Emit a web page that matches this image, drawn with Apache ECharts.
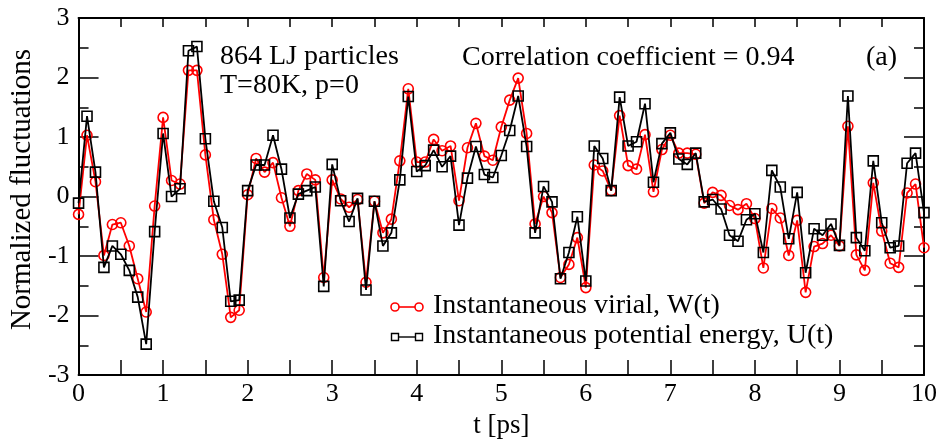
<!DOCTYPE html>
<html>
<head>
<meta charset="utf-8">
<script src="https://cdn.jsdelivr.net/npm/echarts@6/dist/echarts.min.js"></script>
<style>
  html, body { margin: 0; padding: 0; background: #fff; }
  #chart { width: 940px; height: 444px; }
</style>
</head>
<body>
<div id="chart"></div>
<script>
// Sampling times, ps
const times = [
  0.0, 0.1, 0.2, 0.3, 0.4, 0.5, 0.6, 0.7, 0.8, 0.9,
  1.0, 1.1, 1.2, 1.3, 1.4, 1.5, 1.6, 1.7, 1.8, 1.9,
  2.0, 2.1, 2.2, 2.3, 2.4, 2.5, 2.6, 2.7, 2.8, 2.9,
  3.0, 3.1, 3.2, 3.3, 3.4, 3.5, 3.6, 3.7, 3.8, 3.9,
  4.0, 4.1, 4.2, 4.3, 4.4, 4.5, 4.6, 4.7, 4.8, 4.9,
  5.0, 5.1, 5.2, 5.3, 5.4, 5.5, 5.6, 5.7, 5.8, 5.9,
  6.0, 6.1, 6.2, 6.3, 6.4, 6.5, 6.6, 6.7, 6.8, 6.9,
  7.0, 7.1, 7.2, 7.3, 7.4, 7.5, 7.6, 7.7, 7.8, 7.9,
  8.0, 8.1, 8.2, 8.3, 8.4, 8.5, 8.6, 8.7, 8.8, 8.9,
  9.0, 9.1, 9.2, 9.3, 9.4, 9.5, 9.6, 9.7, 9.8, 9.9,
  10.0
];

// Instantaneous virial W(t), normalized fluctuation
const virial = [
  -0.30, 1.03, 0.25, -0.99, -0.47, -0.44, -0.83, -1.38, -1.94, -0.16,
  1.33, 0.27, 0.21, 2.12, 2.12, 0.70, -0.39, -0.97, -2.03, -1.91,
  0.03, 0.64, 0.41, 0.57, -0.02, -0.50, 0.10, 0.38, 0.28, -1.36,
  0.28, -0.04, -0.18, -0.05, -1.44, -0.08, -0.61, -0.38, 0.60, 1.81,
  0.58, 0.58, 0.96, 0.77, 0.85, -0.07, 0.82, 1.23, 0.68, 0.61,
  1.17, 1.62, 1.99, 1.06, -0.46, 0.00, -0.27, -1.36, -1.14, -0.69,
  -1.53, 0.53, 0.43, 0.10, 1.36, 0.52, 0.46, 1.04, 0.08, 0.79,
  1.03, 0.73, 0.73, 0.71, -0.11, 0.07, 0.02, -0.15, -0.22, -0.12,
  -0.37, -1.20, -0.20, -0.36, -0.99, -0.40, -1.61, -0.84, -0.79, -0.65,
  -0.83, 1.18, -0.98, -1.24, 0.23, -0.58, -1.12, -1.19, 0.06, 0.21,
  -0.86
];

// Instantaneous potential energy U(t), normalized fluctuation
const potential = [
  -0.11, 1.35, 0.41, -1.19, -0.83, -0.97, -1.24, -1.69, -2.48, -0.59,
  1.06, 0.00, 0.13, 2.45, 2.52, 0.97, -0.08, -0.52, -1.76, -1.74,
  0.10, 0.53, 0.53, 1.03, 0.46, -0.36, 0.04, 0.10, 0.16, -1.51,
  0.54, -0.07, -0.42, -0.03, -1.57, -0.08, -0.83, -0.61, 0.28, 1.68,
  0.42, 0.52, 0.78, 0.50, 0.68, -0.48, 0.31, 0.84, 0.37, 0.32,
  0.69, 1.11, 1.69, 0.84, -0.61, 0.17, -0.09, -1.38, -0.94, -0.34,
  -1.42, 0.85, 0.64, 0.10, 1.67, 0.85, 0.92, 1.56, 0.24, 0.89,
  1.07, 0.63, 0.54, 0.73, -0.09, -0.05, -0.21, -0.65, -0.75, -0.39,
  -0.29, -0.94, 0.44, 0.16, -0.71, 0.07, -1.28, -0.54, -0.65, -0.46,
  -0.82, 1.69, -0.69, -0.91, 0.60, -0.44, -0.86, -0.83, 0.56, 0.73,
  -0.27
];

const seriesNames = ['Instantaneous virial, W(t)', 'Instantaneous potential energy, U(t)'];
const annotations = ['864 LJ particles', 'T=80K, p=0', 'Correlation coefficient = 0.94', '(a)'];
const xTitle = 't [ps]';
const yTitle = 'Normalized fluctuations';

const FONT = '"Liberation Serif", "Times New Roman", serif';
const TEXT_FONT = '28px ' + FONT;
const RED = '#ff0000';
const BLACK = '#000000';

const pairs = (ys) => times.map((t, i) => [t, ys[i]]);

const labelStyle = { fontFamily: FONT, fontSize: 26, color: BLACK };

// plain text placed in pixel space, vertically centred on y
const textEl = (str, x, y) => ({
  type: 'text', x, y,
  style: { text: str, font: TEXT_FONT, fill: BLACK, verticalAlign: 'middle', textVerticalAlign: 'middle' }
});

const chart = echarts.init(document.getElementById('chart'), null, { renderer: 'canvas' });

chart.setOption({
  animation: false,
  backgroundColor: '#fff',
  grid: { left: 77, right: 16, top: 18, bottom: 66, containLabel: false },
  xAxis: [
    {
      type: 'value', position: 'bottom', min: 0, max: 10, interval: 0.5,
      axisLine: { show: true, onZero: false, lineStyle: { color: BLACK, width: 2 } },
      axisTick: { show: true, inside: true, length: 15, lineStyle: { color: BLACK, width: 1.5 } },
      axisLabel: {
        ...labelStyle, margin: 6,
        formatter: (v) => (Math.abs(v - Math.round(v)) < 1e-6 ? String(Math.round(v)) : '')
      },
      splitLine: { show: false },
      name: xTitle, nameLocation: 'middle', nameGap: 36,
      nameTextStyle: { fontFamily: FONT, fontSize: 27, color: BLACK }
    },
    {
      type: 'value', position: 'top', min: 0, max: 10, interval: 0.5,
      axisLine: { show: true, onZero: false, lineStyle: { color: BLACK, width: 2 } },
      axisTick: { show: true, inside: true, length: 9, lineStyle: { color: BLACK, width: 1.5 } },
      axisLabel: { show: false },
      splitLine: { show: false }
    }
  ],
  yAxis: [
    {
      type: 'value', position: 'left', min: -3, max: 3, interval: 1,
      axisLine: { show: true, onZero: false, lineStyle: { color: BLACK, width: 2 } },
      axisTick: { show: true, inside: true, length: 20, lineStyle: { color: BLACK, width: 1.5 } },
      minorTick: { show: true, splitNumber: 2, length: 10, lineStyle: { color: BLACK, width: 1.5 } },
      axisLabel: { ...labelStyle, margin: 9 },
      splitLine: { show: false },
      name: yTitle, nameLocation: 'middle', nameGap: 41, nameRotate: 90,
      nameTextStyle: { fontFamily: FONT, fontSize: 29, color: BLACK, padding: [0, 0, 0, 14] }
    },
    {
      type: 'value', position: 'right', min: -3, max: 3, interval: 1,
      axisLine: { show: true, onZero: false, lineStyle: { color: BLACK, width: 2 } },
      axisTick: { show: true, inside: true, length: 20, lineStyle: { color: BLACK, width: 1.5 } },
      minorTick: { show: true, splitNumber: 2, length: 10, lineStyle: { color: BLACK, width: 1.5 } },
      axisLabel: { show: false },
      splitLine: { show: false }
    }
  ],
  series: [
    {
      name: seriesNames[0], type: 'line', xAxisIndex: 0, yAxisIndex: 0,
      data: pairs(virial),
      symbol: 'circle', symbolSize: 10, showAllSymbol: true,
      lineStyle: { color: RED, width: 1.8 },
      itemStyle: { color: 'rgba(0,0,0,0)', borderColor: RED, borderWidth: 1.6 },
      emphasis: { disabled: true }, z: 2
    },
    {
      name: seriesNames[1], type: 'line', xAxisIndex: 0, yAxisIndex: 0,
      data: pairs(potential),
      symbol: 'rect', symbolSize: 10, showAllSymbol: true,
      lineStyle: { color: BLACK, width: 1.8 },
      itemStyle: { color: 'rgba(0,0,0,0)', borderColor: BLACK, borderWidth: 1.6 },
      emphasis: { disabled: true }, z: 3
    }
  ],
  graphic: [
    // annotations
    textEl(annotations[0], 220, 57),
    textEl(annotations[1], 220, 86),
    textEl(annotations[2], 462, 58),
    textEl(annotations[3], 866, 58),
    // key, row 1: virial
    { type: 'line', shape: { x1: 395, y1: 307, x2: 419, y2: 307 }, style: { stroke: RED, lineWidth: 1.6 } },
    { type: 'circle', shape: { cx: 395, cy: 307, r: 4 }, style: { fill: '#fff', stroke: RED, lineWidth: 1.6 } },
    { type: 'circle', shape: { cx: 419, cy: 307, r: 4 }, style: { fill: '#fff', stroke: RED, lineWidth: 1.6 } },
    textEl(seriesNames[0], 433, 306),
    // key, row 2: potential energy
    { type: 'line', shape: { x1: 395, y1: 337, x2: 419, y2: 337 }, style: { stroke: BLACK, lineWidth: 1.4 } },
    { type: 'rect', shape: { x: 391.5, y: 333.5, width: 7, height: 7 }, style: { fill: '#fff', stroke: BLACK, lineWidth: 1.4 } },
    { type: 'rect', shape: { x: 415.5, y: 333.5, width: 7, height: 7 }, style: { fill: '#fff', stroke: BLACK, lineWidth: 1.4 } },
    textEl(seriesNames[1], 433, 336)
  ]
});
</script>
</body>
</html>
